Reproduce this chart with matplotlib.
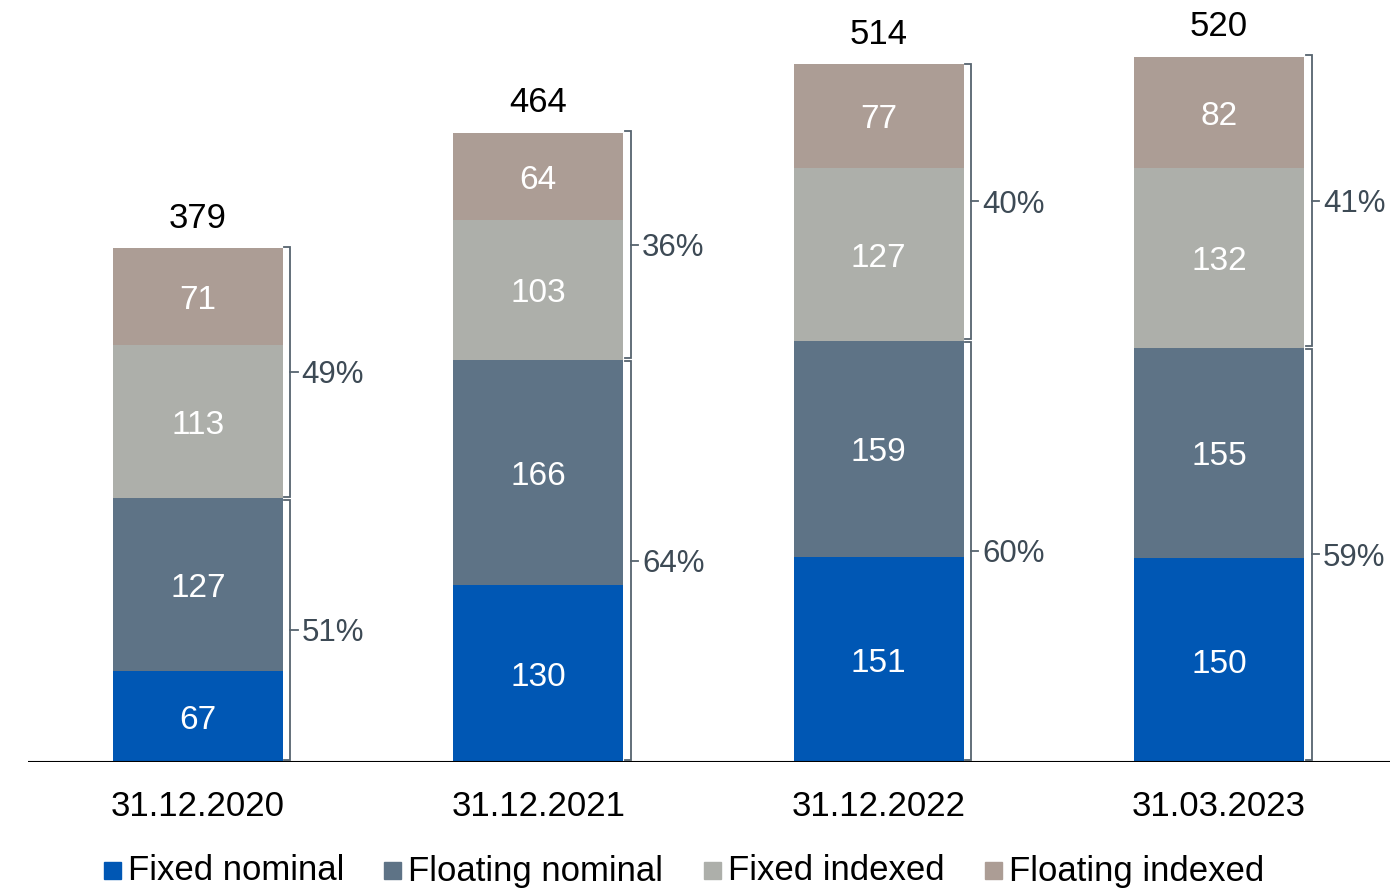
import numpy as np
import matplotlib.pyplot as plt
from matplotlib.patches import Rectangle

plt.rcParams['font.family'] = ['Liberation Sans', 'DejaVu Sans']

# --- Data ---
dates = ['31.12.2020', '31.12.2021', '31.12.2022', '31.03.2023']
series_names = ['Fixed nominal', 'Floating nominal', 'Fixed indexed', 'Floating indexed']
fixed_nominal = [67, 130, 151, 150]
floating_nominal = [127, 166, 159, 155]
fixed_indexed = [113, 103, 127, 132]
floating_indexed = [71, 64, 77, 82]
totals = [379, 464, 514, 520]
nominal_share = ['51%', '64%', '60%', '59%']
indexed_share = ['49%', '36%', '40%', '41%']

colors = ['#0057B4', '#5E7386', '#ADAFAA', '#AC9D95']
bracket_color = '#56636E'
share_color = '#3D4A55'

W, H = 1393, 893
fig = plt.figure(figsize=(W / 100, H / 100), dpi=100)
ax = fig.add_axes([28 / W, (H - 762) / H, 1362 / W, 762 / H])

px_per_unit = 515 / 379
ax.set_ylim(0, 762 / px_per_unit)
ax.set_xlim(-0.499, 3.502)

x = np.arange(len(dates))
width = 0.5
stack = [fixed_nominal, floating_nominal, fixed_indexed, floating_indexed]
bottom = np.zeros(len(dates))
for vals, col in zip(stack, colors):
    vals = np.array(vals, dtype=float)
    ax.bar(x, vals, width, bottom=bottom, color=col, edgecolor='none')
    for xi, b, v in zip(x, bottom, vals):
        ax.text(xi, b + v / 2 - 3, f'{int(v)}', ha='center', va='center',
                color='white', fontsize=24)
    bottom += vals

for xi, t in zip(x, totals):
    ax.text(xi, t + 9, str(t), ha='center', va='bottom', fontsize=25, color='black')


def bracket(xi, y0, y1, label):
    xb = xi + 0.272
    xl = xi + 0.254
    xr = xi + 0.293
    ym = (y0 + y1) / 2
    ax.plot([xl, xb, xb, xl], [y0, y0, y1, y1], color=bracket_color, lw=1.3,
            solid_joinstyle='miter')
    ax.plot([xb, xr], [ym, ym], color=bracket_color, lw=1.3)
    ax.text(xi + 0.305, ym - 2.5, label, ha='left', va='center', fontsize=22.5,
            color=share_color)


for i in range(len(dates)):
    nom = fixed_nominal[i] + floating_nominal[i]
    bracket(x[i], 1.5, nom - 1.0, nominal_share[i])
    bracket(x[i], nom + 1.0, totals[i], indexed_share[i])

ax.axhline(0, color='black', lw=1.5)
for s in ax.spines.values():
    s.set_visible(False)
ax.set_yticks([])
ax.set_xticks(x)
ax.set_xticklabels(dates, fontsize=25)
ax.tick_params(axis='x', length=0, pad=20)

# legend
leg_marker_x = [104, 384, 704, 985]
leg_y = 871
for mx, name, col in zip(leg_marker_x, series_names, colors):
    fig.patches.append(Rectangle((mx / W, (H - leg_y - 8) / H), 17 / W, 17 / H,
                                 transform=fig.transFigure, color=col))
    fig.text((mx + 24) / W, (H - leg_y) / H, name, ha='left', va='center',
             fontsize=25, color='black')

fig.savefig('out.png', dpi=100)
